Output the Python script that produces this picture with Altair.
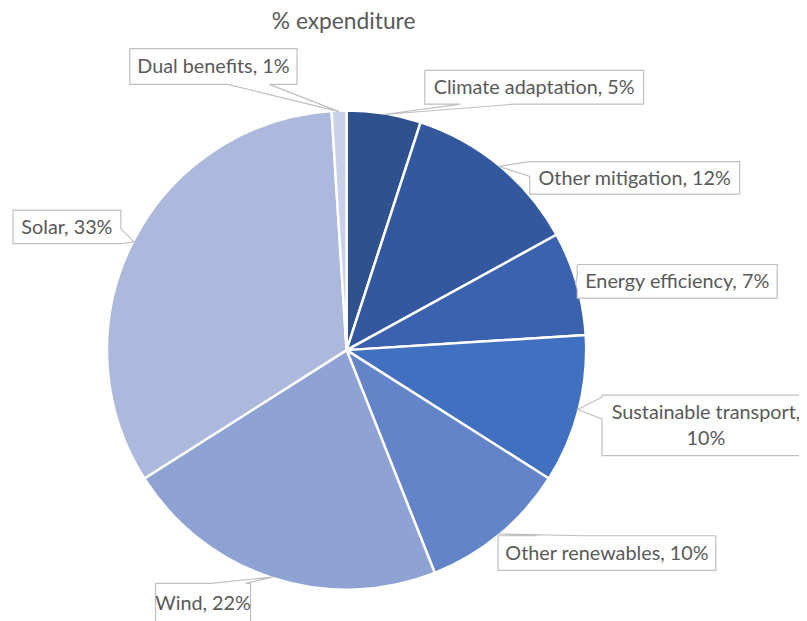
import math
import altair as alt
import pandas as pd

# ---- data ----
labels = ["Climate adaptation", "Other mitigation", "Energy efficiency",
          "Sustainable transport", "Other renewables", "Wind", "Solar",
          "Dual benefits"]
values = [5, 12, 7, 10, 10, 22, 33, 1]
title_text = "% expenditure"

# ---- styles ----
colors = ["#2F528F", "#3358A0", "#3A62AE", "#4270C0",
          "#6484CA", "#8FA2D4", "#ACB9DD", "#C8D0EA"]
W, H = 799, 613
CX, CY, R = 342, 342.5, 242
FONT = "Lato"
TXT = "#595959"
LH = 26

# label box layout: x0, x1, y0, y1, side of pointer, base1, base2
boxes = {
    "Dual benefits":         (123, 292, 38, 74, "bottom", 222, 264),
    "Climate adaptation":    (421, 642, 60, 94, "bottom", 457, 512),
    "Other mitigation":      (527, 739, 152, 185, "left", 152, 167),
    "Energy efficiency":     (575, 777, 256, 290, "left", 267, 281),
    "Sustainable transport": (600, 810, 388, 449, "left", 390, 412),
    "Other renewables":      (495, 715, 530, 565, "top", 534, 582),
    "Wind":                  (149, 245, 578, 617, "top", 205, 240),
    "Solar":                 (5, 114, 201, 235, "right", 220, 235),
}
label_text = {
    "Sustainable transport": "Sustainable transport,\n{v}%",
}

df = pd.DataFrame({"label": labels, "value": values, "idx": range(len(labels))})
total = sum(values)

poly_rows, lab_rows = [], []
cum = 0
for lab, v in zip(labels, values):
    mid = (cum + v / 2) / total * 2 * math.pi
    cum += v
    tx = CX + (R - 1) * math.sin(mid)
    ty = CY - (R - 1) * math.cos(mid)
    x0, x1, y0, y1, side, b1, b2 = boxes[lab]
    pts = [(x0, y0)]
    if side == "top":
        pts += [(b1, y0), (tx, ty), (b2, y0)]
    pts += [(x1, y0)]
    if side == "right":
        pts += [(x1, b1), (tx, ty), (x1, b2)]
    pts += [(x1, y1)]
    if side == "bottom":
        pts += [(b2, y1), (tx, ty), (b1, y1)]
    pts += [(x0, y1)]
    if side == "left":
        pts += [(x0, b2), (tx, ty), (x0, b1)]
    pts += [(x0, y0)]
    for i, (px, py) in enumerate(pts):
        poly_rows.append({"label": lab, "seq": i, "x": px, "y": py})
    txt = label_text.get(lab, "{l}, {v}%").format(l=lab, v=v)
    nlines = txt.count("\n") + 1
    lab_rows.append({"label": lab, "text": txt,
                     "x": (x0 + x1) / 2,
                     "y": (y0 + y1) / 2 + 1 - (nlines - 1) * LH / 2})

poly = pd.DataFrame(poly_rows)
labdf = pd.DataFrame(lab_rows)

xs = alt.Scale(domain=[0, W], nice=False, zero=False)
ys = alt.Scale(domain=[0, H], nice=False, zero=False, reverse=True)

pie = alt.Chart(df).mark_arc(radius=R, stroke="white", strokeWidth=2.5).encode(
    theta=alt.Theta("value:Q", stack=True),
    order=alt.Order("idx:Q"),
    color=alt.Color("label:N", scale=alt.Scale(domain=labels, range=colors), legend=None),
    x=alt.value(CX),
    y=alt.value(CY),
)

callouts = alt.Chart(poly).mark_line(
    fill="white", stroke="#BFBFBF", strokeWidth=1.2, strokeJoin="miter"
).encode(
    x=alt.X("x:Q", scale=xs, axis=None),
    y=alt.Y("y:Q", scale=ys, axis=None),
    detail="label:N",
    order="seq:Q",
)

texts = alt.Chart(labdf).mark_text(
    font=FONT, fontSize=20, color=TXT, lineBreak="\n", lineHeight=LH
).encode(
    x=alt.X("x:Q", scale=xs, axis=None),
    y=alt.Y("y:Q", scale=ys, axis=None),
    text="text:N",
)

title = alt.Chart(pd.DataFrame({"t": [title_text]})).mark_text(
    font=FONT, fontSize=23, color=TXT
).encode(x=alt.value(339), y=alt.value(11), text="t:N")

chart = alt.layer(pie, callouts, texts, title).properties(
    width=W, height=H, padding=0, autosize="none"
).configure_view(stroke=None)

chart.save("out.html", embed_options={"renderer": "svg", "actions": False})
